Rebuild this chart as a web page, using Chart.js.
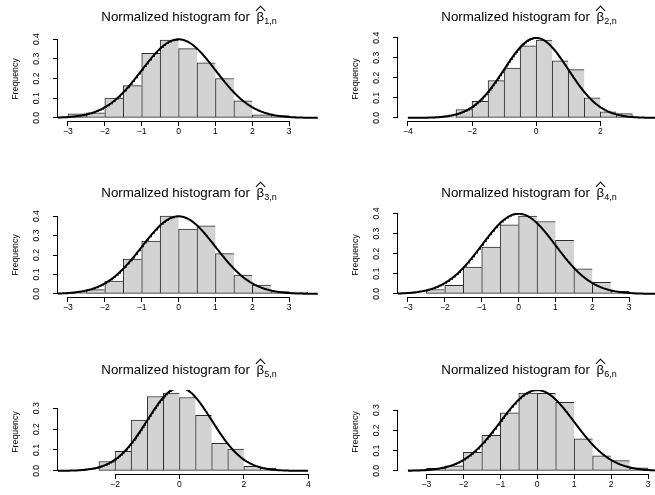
<!DOCTYPE html>
<html>
<head>
<meta charset="utf-8">
<script src="https://cdn.jsdelivr.net/npm/chart.js@4.4.1/dist/chart.umd.min.js"></script>
<style>
  html, body { margin: 0; padding: 0; background: #fff; overflow: hidden; }
  body { width: 655px; height: 495px; position: relative; }
  .panel { position: absolute; width: 327px; height: 141px; }
  .panel canvas { position: absolute; left: 0; top: 0; }
  .ttl {
    position: absolute; left: 58px; width: 262px; top: 9px;
    text-align: center; white-space: nowrap; color: #000;
    font: 13.3px "Liberation Sans", Arial, sans-serif;
  }
  .ttl sub { font-size: 9px; vertical-align: -3px; line-height: 0; }
  .bh { position: relative; display: inline-block; margin-left: 3px; }
  .bh::before {
    content: ""; position: absolute; left: 50%; top: -2px;
    width: 6px; height: 6px; margin-left: -3.5px;
    border-left: 1px solid #000; border-top: 1px solid #000;
    transform: rotate(45deg);
  }
</style>
</head>
<body>
<script>
/* ============================
   DATA
============================ */
// every histogram uses bins 0.5 wide, starting at the panel's first break
const binWidth = 0.5;
const firstBreak = [-3, -4, -3, -3, -2.5, -3.5];

const dens1 = [0.020, 0.026, 0.100, 0.164, 0.328, 0.395, 0.352, 0.279, 0.200, 0.087, 0.015, 0.012, 0.002];
const dens2 = [0.002, 0.003, 0.005, 0.042, 0.082, 0.186, 0.249, 0.360, 0.388, 0.285, 0.241, 0.100, 0.030, 0.021];
const dens3 = [0.007, 0.022, 0.066, 0.179, 0.272, 0.400, 0.333, 0.350, 0.207, 0.097, 0.045, 0.012, 0.009];
const dens4 = [0.003, 0.022, 0.043, 0.133, 0.233, 0.343, 0.387, 0.360, 0.267, 0.125, 0.058, 0.013];
const dens5 = [0.045, 0.094, 0.243, 0.356, 0.372, 0.351, 0.266, 0.132, 0.104, 0.022, 0.013];
const dens6 = [0.007, 0.013, 0.025, 0.092, 0.176, 0.287, 0.384, 0.383, 0.338, 0.158, 0.074, 0.051, 0.015];
const densities = [dens1, dens2, dens3, dens4, dens5, dens6];

const subscripts = ["1,n", "2,n", "3,n", "4,n", "5,n", "6,n"];

// axis ranges and tick steps
const xLo = [-3.27, -4.31, -3.27, -3.27, -3.77, -3.77];
const xHi = [3.78, 3.8, 3.78, 3.78, 4.3, 3.27];
const xStep = [1, 2, 1, 1, 2, 1];
const yStep = 0.1;

// where the N(0,1) density curve is drawn
const curveFrom = [-3.27, -4, -3.27, -3.27, -3.77, -3.5];
const curveTo = [3.78, 3.8, 3.78, 3.78, 4, 3.27];

/* ============================
   LAYOUT
============================ */
const panelLeft = [0, 340, 0, 340, 0, 340];
const panelTop = [0, 0, 176, 176, 353, 353];

const FONT = "'Liberation Sans', Arial, sans-serif";
Chart.defaults.font.family = FONT;
Chart.defaults.color = "#000";

// standard normal density, the overlay of the original
function dnorm(x) {
  return Math.exp(-x * x / 2) / Math.sqrt(2 * Math.PI);
}

const minus = v => String(v).replace("-", "\u2212");

// R style axis lines: only from first tick to last tick
const rAxes = {
  id: "rAxes",
  afterDraw(chart) {
    const { ctx, chartArea, scales: { x, y } } = chart;
    const xt = x.ticks, yt = y.ticks;
    ctx.save();
    ctx.strokeStyle = "#000";
    ctx.lineWidth = 1;
    ctx.beginPath();
    ctx.moveTo(x.getPixelForValue(xt[0].value), chartArea.bottom + 0.5);
    ctx.lineTo(x.getPixelForValue(xt[xt.length - 1].value), chartArea.bottom + 0.5);
    ctx.moveTo(chartArea.left - 0.5, y.getPixelForValue(yt[0].value));
    ctx.lineTo(chartArea.left - 0.5, y.getPixelForValue(yt[yt.length - 1].value));
    ctx.stroke();
    ctx.restore();
  }
};

densities.forEach((dens, p) => {
  const box = document.createElement("div");
  box.className = "panel";
  box.style.left = panelLeft[p] + "px";
  box.style.top = panelTop[p] + "px";
  box.innerHTML =
    '<canvas width="327" height="141"></canvas>' +
    '<div class="ttl">Normalized histogram for <span class="bh">\u03B2</span><sub>' + subscripts[p] + "</sub></div>";
  document.body.appendChild(box);

  const bars = dens.map((d, i) => ({ x: firstBreak[p] + binWidth * (i + 0.5), y: d }));
  const last = dens.length - 1;

  const curve = [];
  for (let x = curveFrom[p]; x <= curveTo[p] + 1e-9; x += 0.02) {
    curve.push({ x: x, y: dnorm(x) });
  }

  // R's hist(): ylim = c(0, max), then 4% extension both ways
  const top = Math.max(...dens);

  new Chart(box.querySelector("canvas"), {
    type: "bar",
    data: {
      datasets: [
        {
          type: "line",
          data: curve,
          borderColor: "#000",
          borderWidth: 2,
          pointRadius: 0,
          tension: 0,
          order: 0
        },
        {
          type: "bar",
          data: bars,
          backgroundColor: "#d3d3d3",
          borderColor: "#2b2b2b",
          borderSkipped: false,
          borderWidth: c => ({ top: 1, left: 1, bottom: 1, right: c.dataIndex === last ? 1 : 0 }),
          barPercentage: 1,
          categoryPercentage: 1,
          order: 1
        }
      ]
    },
    options: {
      responsive: false,
      animation: false,
      layout: { padding: { top: 37, right: 9, left: 0, bottom: 0 } },
      plugins: { legend: { display: false }, tooltip: { enabled: false } },
      scales: {
        x: {
          type: "linear",
          min: xLo[p],
          max: xHi[p],
          offset: false,
          grid: { offset: false, drawOnChartArea: false, drawTicks: true, tickLength: 5, color: "#000" },
          border: { display: false },
          ticks: {
            stepSize: xStep[p],
            includeBounds: false,
            padding: 0,
            maxRotation: 0,
            font: { size: 8.6 },
            callback: v => minus(v)
          },
          afterFit: s => { s.height = 20; }
        },
        y: {
          min: -0.04 * top,
          max: 1.04 * top,
          grid: { drawOnChartArea: false, drawTicks: true, tickLength: 5, color: "#000" },
          border: { display: false },
          ticks: {
            stepSize: yStep,
            includeBounds: false,
            minRotation: 90,
            maxRotation: 90,
            crossAlign: "center",
            padding: 10,
            font: { size: 8.6 },
            callback: v => v.toFixed(1)
          },
          title: {
            display: true,
            text: "Frequency",
            font: { size: 8.8 },
            padding: { top: 10, bottom: 0 }
          },
          afterFit: s => { s.width = 58; }
        }
      }
    },
    plugins: [rAxes]
  });
});
</script>
</body>
</html>
